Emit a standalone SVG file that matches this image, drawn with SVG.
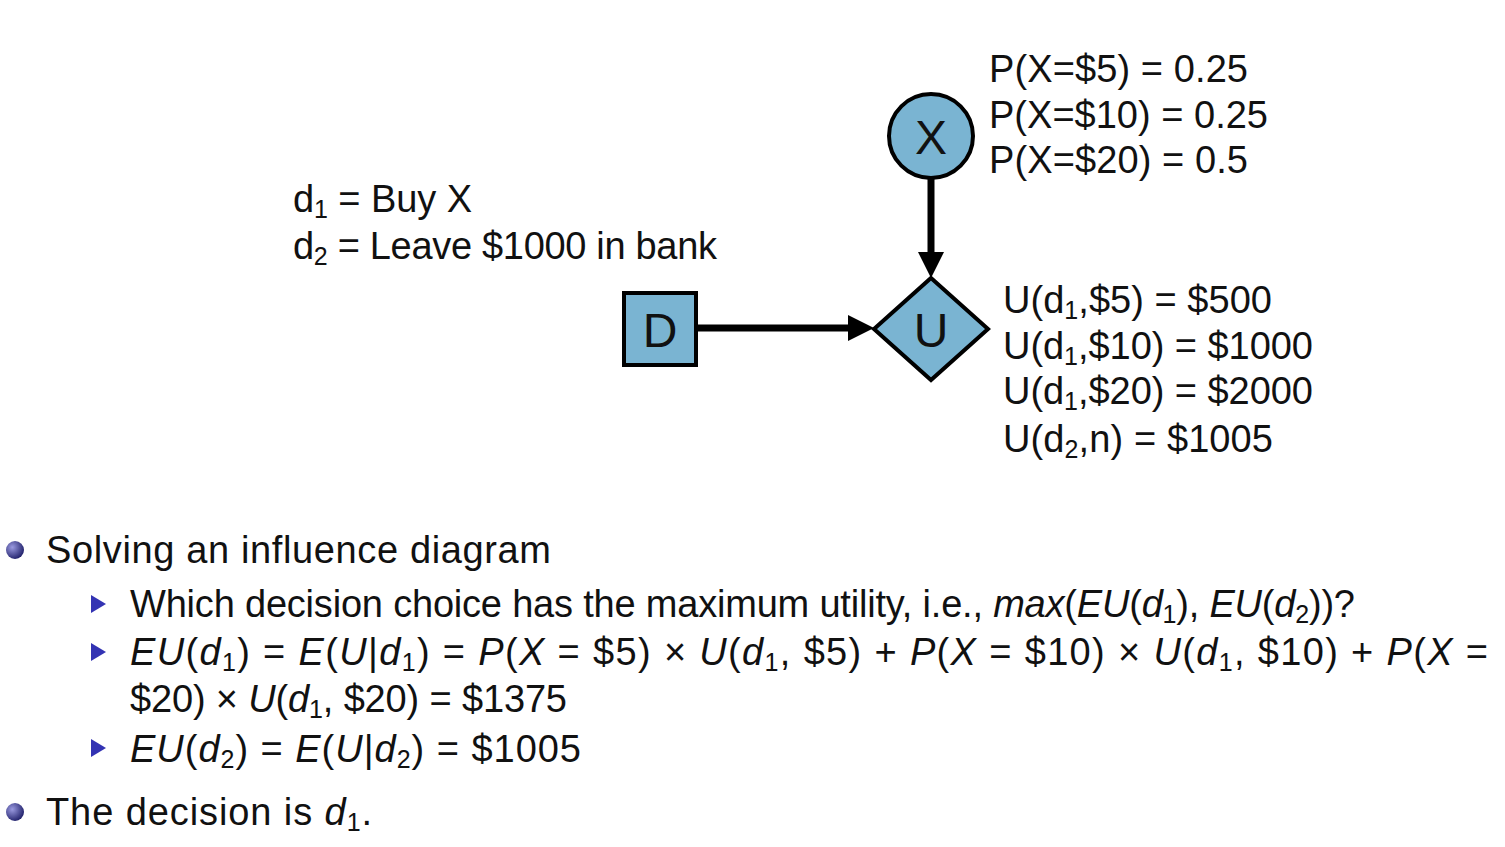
<svg xmlns="http://www.w3.org/2000/svg" width="1505" height="847" viewBox="0 0 1505 847">
<defs>
<style>
.t{font-family:"Liberation Sans","DejaVu Sans",sans-serif;font-size:38px;fill:#111}
.n{fill:#7ab4d2;stroke:#000;stroke-width:4}
.lbl{font-family:"Liberation Sans","DejaVu Sans",sans-serif;font-size:48px;fill:#111;text-anchor:middle}
.e{stroke:#000;stroke-width:7;fill:none}
.i{font-style:italic}
.s{font-size:25px}
</style>
<radialGradient id="bg" cx="0.35" cy="0.35" r="0.7">
<stop offset="0" stop-color="#9a9ae0"/>
<stop offset="1" stop-color="#20206a"/>
</radialGradient>
</defs>
<rect width="1505" height="847" fill="#fff"/>
<g id="connectors">
<line class="e" x1="931" y1="178" x2="931" y2="256"/>
<path d="M918,252 L944,252 L931,278 z" fill="#000"/>
<line class="e" x1="696" y1="328" x2="852" y2="328"/>
<path d="M848,315 L874,328 L848,341 z" fill="#000"/>
</g>
<g id="node-X">
<circle class="n" cx="931" cy="136" r="42"/>
<text class="lbl" x="931" y="154">X</text>
</g>
<g id="node-D">
<rect class="n" x="624" y="293" width="72" height="72"/>
<text class="lbl" x="660" y="347">D</text>
</g>
<g id="node-U">
<path class="n" d="M931,278 L988,329 L931,380 L874,329 z"/>
<text class="lbl" x="931" y="347">U</text>
</g>
<g id="prob-text">
<text class="t" x="989" y="82" textLength="259">P(X=$5) = 0.25</text>
<text class="t" x="989" y="128" textLength="279">P(X=$10) = 0.25</text>
<text class="t" x="989" y="173" textLength="259">P(X=$20) = 0.5</text>
</g>
<g id="decision-text">
<text class="t" x="293" y="212" textLength="179">d<tspan class="s" dy="6">1</tspan><tspan dy="-6"> = Buy X</tspan></text>
<text class="t" x="293" y="259" textLength="424">d<tspan class="s" dy="6">2</tspan><tspan dy="-6"> = Leave $1000 in bank</tspan></text>
</g>
<g id="utility-text">
<text class="t" x="1003" y="313" textLength="269">U(d<tspan class="s" dy="6">1</tspan><tspan dy="-6">,$5) = $500</tspan></text>
<text class="t" x="1003" y="359" textLength="310">U(d<tspan class="s" dy="6">1</tspan><tspan dy="-6">,$10) = $1000</tspan></text>
<text class="t" x="1003" y="404" textLength="310">U(d<tspan class="s" dy="6">1</tspan><tspan dy="-6">,$20) = $2000</tspan></text>
<text class="t" x="1003" y="452" textLength="270">U(d<tspan class="s" dy="6">2</tspan><tspan dy="-6">,n) = $1005</tspan></text>
</g>
<g id="bullets">
<circle cx="15" cy="550" r="9" fill="url(#bg)"/>
<text class="t" x="46" y="563" textLength="505">Solving an influence diagram</text>
<path d="M91,595 L106,604 L91,613 z" fill="#3333b3"/>
<text class="t" x="130" y="617" textLength="1225">Which decision choice has the maximum utility, i.e., <tspan class="i">max</tspan>(<tspan class="i">EU</tspan>(<tspan class="i">d</tspan><tspan class="s" dy="6">1</tspan><tspan dy="-6">), </tspan><tspan class="i">EU</tspan>(<tspan class="i">d</tspan><tspan class="s" dy="6">2</tspan><tspan dy="-6">))?</tspan></text>
<path d="M91,643 L106,652 L91,661 z" fill="#3333b3"/>
<text class="t" x="130" y="665" textLength="1358"><tspan class="i">EU</tspan>(<tspan class="i">d</tspan><tspan class="s" dy="6">1</tspan><tspan dy="-6">) = </tspan><tspan class="i">E</tspan>(<tspan class="i">U</tspan>|<tspan class="i">d</tspan><tspan class="s" dy="6">1</tspan><tspan dy="-6">) = </tspan><tspan class="i">P</tspan>(<tspan class="i">X</tspan> = $5) × <tspan class="i">U</tspan>(<tspan class="i">d</tspan><tspan class="s" dy="6">1</tspan><tspan dy="-6">, $5) + </tspan><tspan class="i">P</tspan>(<tspan class="i">X</tspan> = $10) × <tspan class="i">U</tspan>(<tspan class="i">d</tspan><tspan class="s" dy="6">1</tspan><tspan dy="-6">, $10) + </tspan><tspan class="i">P</tspan>(<tspan class="i">X</tspan> =</text>
<text class="t" x="130" y="712" textLength="437">$20) × <tspan class="i">U</tspan>(<tspan class="i">d</tspan><tspan class="s" dy="6">1</tspan><tspan dy="-6">, $20) = $1375</tspan></text>
<path d="M91,739 L106,748 L91,757 z" fill="#3333b3"/>
<text class="t" x="130" y="762" textLength="451"><tspan class="i">EU</tspan>(<tspan class="i">d</tspan><tspan class="s" dy="6">2</tspan><tspan dy="-6">) = </tspan><tspan class="i">E</tspan>(<tspan class="i">U</tspan>|<tspan class="i">d</tspan><tspan class="s" dy="6">2</tspan><tspan dy="-6">) = $1005</tspan></text>
<circle cx="15" cy="812" r="9" fill="url(#bg)"/>
<text class="t" x="46" y="825" textLength="326">The decision is <tspan class="i">d</tspan><tspan class="s" dy="6">1</tspan><tspan dy="-6">.</tspan></text>
</g>
</svg>
